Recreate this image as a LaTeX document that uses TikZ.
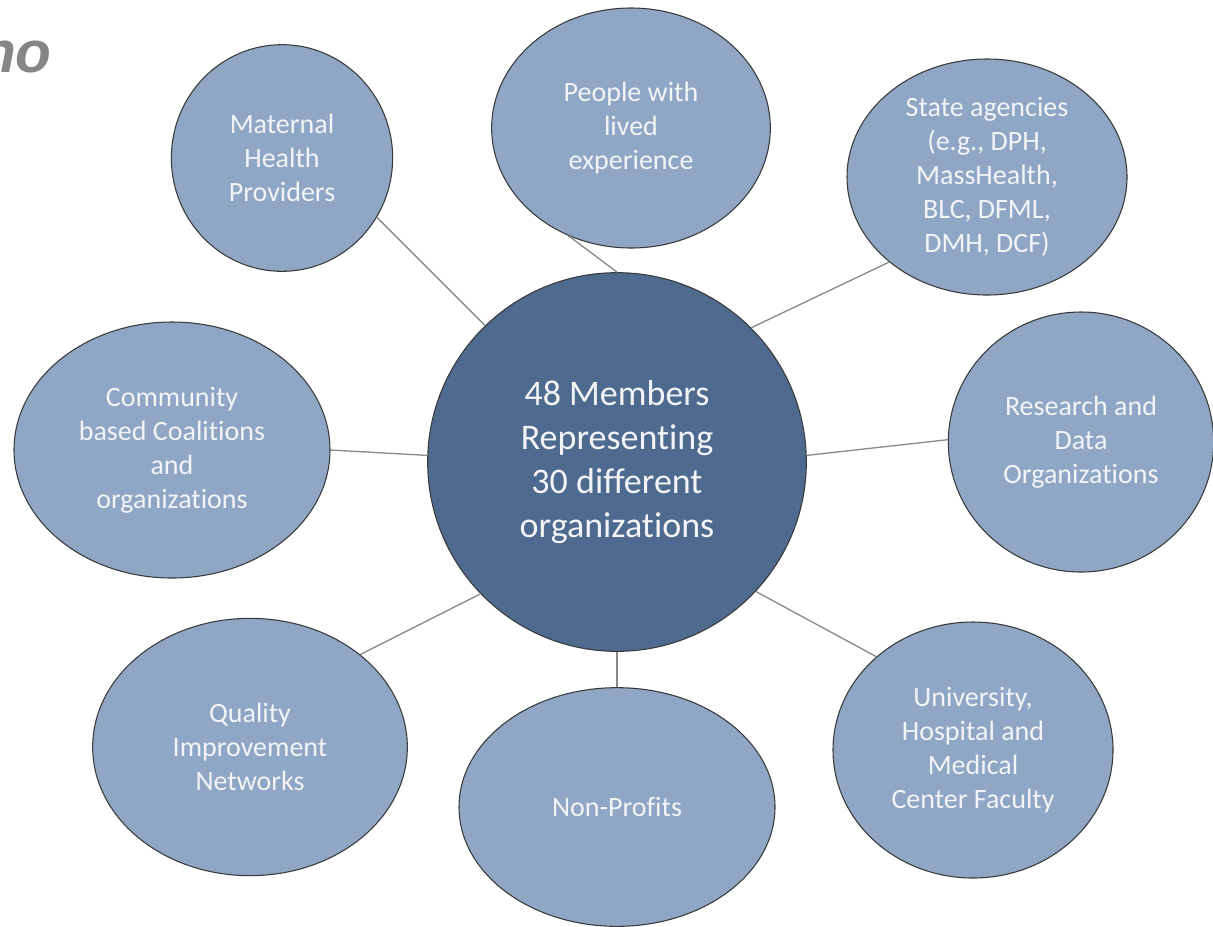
\documentclass[tikz,border=0pt]{standalone}
\usepackage{fontspec}
\setmainfont{Carlito}[Ligatures=NoCommon]
\newfontfamily\headfont{Liberation Sans}
\usetikzlibrary{shapes.geometric}

\definecolor{outerfill}{HTML}{8FA6C4}
\definecolor{hubfill}{HTML}{4F6A8F}
\definecolor{rimline}{HTML}{3A3A3A}
\definecolor{linkgray}{HTML}{8A8A8A}
\definecolor{labelwhite}{HTML}{F2F4F7}

\begin{document}
\begin{tikzpicture}[x=0.75pt,y=-0.75pt,
    group/.style={ellipse,draw=rimline,line width=0.8pt,fill=outerfill,
      text=labelwhite,align=center,inner sep=0pt,
      font=\fontsize{21}{25.5}\selectfont},
    hub/.style={circle,draw=rimline,line width=0.8pt,fill=hubfill,
      text=labelwhite,align=center,inner sep=0pt,minimum size=284pt,
      font=\fontsize{27}{33}\selectfont},
    link/.style={draw=linkgray,line width=1pt}]
    \useasboundingbox (0,0) rectangle (1213,926);

    % clipped heading from the slide
    \node[anchor=base east,text=gray!95,inner sep=0pt,
      font=\headfont\bfseries\itshape\fontsize{44}{44}\selectfont] (head) at (52,72) {no};

    \node[hub] (ctr) at (617,462) {48 Members\\Representing\\30 different\\organizations};

    \node[group,minimum width=166pt,minimum height=170pt] (mat)   at (282,158) {Maternal\\Health\\Providers};
    \node[group,minimum width=209pt,minimum height=180pt] (ppl)   at (631,128) {People with\\lived\\experience};
    \node[group,minimum width=210pt,minimum height=177pt] (state) at (987,177) {State agencies\\(e.g., DPH,\\MassHealth,\\BLC, DFML,\\DMH, DCF)};
    \node[group,minimum width=199pt,minimum height=195pt] (res)   at (1081,442) {Research and\\Data\\Organizations};
    \node[group,minimum width=237pt,minimum height=192pt] (comm)  at (172,450) {Community\\based Coalitions\\and\\organizations};
    \node[group,minimum width=236pt,minimum height=193pt] (qual)  at (250,747) {Quality\\Improvement\\Networks};
    \node[group,minimum width=237pt,minimum height=179pt] (nonp)  at (617,807) {Non-Profits};
    \node[group,minimum width=210pt,minimum height=192pt] (univ)  at (973,750) {University,\\Hospital and\\Medical\\Center Faculty};

    % spokes
    \path[link] (mat.-32)    edge (ctr.134)
                (ppl.-120)   edge (ctr.90)
                (state.-139) edge (ctr.45)
                (comm.0)     edge (ctr.178)
                (res.179)    edge (ctr.2)
                (qual.40)    edge (ctr.-136)
                (nonp.90)    edge (ctr.-90)
                (univ.136)   edge (ctr.-43);
\end{tikzpicture}
\end{document}
